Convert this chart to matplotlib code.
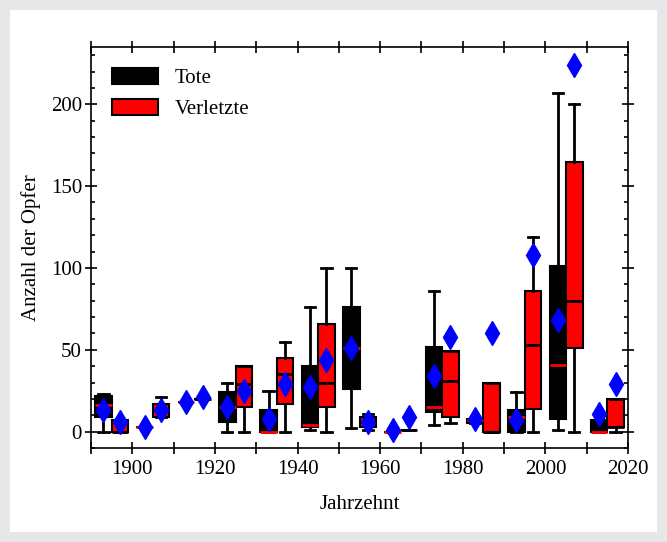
import numpy as np
import matplotlib
matplotlib.use('Agg')
from matplotlib import pyplot as plt
from matplotlib.patches import Patch, Rectangle
from matplotlib.ticker import MultipleLocator

plt.rcParams['font.family'] = ['Liberation Serif', 'DejaVu Serif']
plt.rcParams['font.size'] = 15

# decade start years
decades = [1890, 1900, 1910, 1920, 1930, 1940, 1950, 1960, 1970, 1980, 1990, 2000, 2010]

# Tote (black boxes): whisker low, q1, median, q3, whisker high, mean
tote_lo   = [0, 3, 18, 0, 0, 1, 2, 0, 4, 5, 0, 1, 0]
tote_q1   = [9, 3, 18, 6, 0, 3, 26, 0, 12, 5, 0, 8, 0]
tote_med  = [16, 3, 18, 15, 0, 4, 51, 0, 15, 7, 9, 41, 0]
tote_q3   = [22, 3, 18, 24, 13, 40, 76, 0, 52, 8, 13, 101, 7]
tote_hi   = [23, 3, 18, 30, 25, 76, 100, 0, 86, 8, 24, 207, 7]
tote_mean = [13, 3, 18, 15, 8, 27, 51, 1, 34, 8, 7, 68, 11]

# Verletzte (red boxes)
verl_lo   = [0, 9, 20, 0, 0, 0, 1, 1, 5, 0, 0, 0, 0]
verl_q1   = [0, 9, 20, 15, 17, 15, 3, 1, 9, 0, 14, 51, 3]
verl_med  = [0, 13, 20, 29, 35, 30, 6, 1, 31, 0, 53, 80, 3]
verl_q3   = [7, 17, 20, 40, 45, 66, 9, 1, 49, 30, 86, 165, 20]
verl_hi   = [7, 21, 20, 40, 55, 100, 11, 1, 49, 30, 119, 200, 20]
verl_mean = [6, 13, 21, 25, 29, 44, 6, 9, 58, 60, 108, 224, 29]


def make_stats(lo, q1, med, q3, hi):
    return [dict(whislo=a, q1=b, med=c, q3=d, whishi=e, fliers=[])
            for a, b, c, d, e in zip(lo, q1, med, q3, hi)]


fig = plt.figure(figsize=(6.67, 5.42), dpi=100)
fig.patch.set_facecolor('#e6e7e9')
fig.patches.append(Rectangle((10 / 667, 10 / 542), 647 / 667, 522 / 542,
                             transform=fig.transFigure, facecolor='white',
                             edgecolor='none', zorder=-10))

ax = fig.add_axes([91 / 667, 1 - 448 / 542, 537 / 667, 401 / 542])
ax.set_zorder(1)
ax.patch.set_alpha(0)

pos_tote = np.array(decades) + 3
pos_verl = np.array(decades) + 7

common = dict(widths=4, capwidths=2.5, patch_artist=True, showfliers=False,
              manage_ticks=False,
              whiskerprops=dict(color='black', lw=2),
              capprops=dict(color='black', lw=2))

ax.bxp(make_stats(tote_lo, tote_q1, tote_med, tote_q3, tote_hi), positions=pos_tote,
       boxprops=dict(facecolor='black', edgecolor='black', lw=1.5),
       medianprops=dict(color='red', lw=2), **common)
ax.bxp(make_stats(verl_lo, verl_q1, verl_med, verl_q3, verl_hi), positions=pos_verl,
       boxprops=dict(facecolor='red', edgecolor='black', lw=1.5),
       medianprops=dict(color='black', lw=2), **common)

# means
ax.plot(pos_tote, tote_mean, 'd', color='blue', ms=12, mec='blue', zorder=5)
ax.plot(pos_verl, verl_mean, 'd', color='blue', ms=12, mec='blue', zorder=5)

ax.set_xlim(1890, 2020)
ax.set_ylim(-10, 235)

ax.xaxis.set_minor_locator(MultipleLocator(10))
ax.yaxis.set_major_locator(MultipleLocator(50))
ax.yaxis.set_minor_locator(MultipleLocator(10))
ax.tick_params(axis='x', which='both', direction='inout', length=9, width=1.2,
               top=True, bottom=True, pad=4)
ax.tick_params(axis='y', which='major', direction='inout', length=9, width=1.2,
               left=True, right=True, pad=2)
ax.tick_params(axis='y', which='minor', direction='in', length=3, width=1.2,
               left=True, right=True)
ax.tick_params(labelsize=15)
ax.set_xticks([1900, 1920, 1940, 1960, 1980, 2000, 2020])
for sp in ax.spines.values():
    sp.set_linewidth(1.2)

ax.set_xlabel('Jahrzehnt', fontsize=15, labelpad=12)
ax.set_ylabel('Anzahl der Opfer', fontsize=15, labelpad=7)

handles = [Patch(facecolor='black', edgecolor='black', lw=1.5),
           Patch(facecolor='red', edgecolor='black', lw=1.5)]
ax.legend(handles, ['Tote', 'Verletzte'], loc='upper left', frameon=False,
          handlelength=2.2, handleheight=0.85, fontsize=15, borderaxespad=0.6,
          labelspacing=0.5, handletextpad=0.8)

fig.savefig('out.png', dpi=100, facecolor=fig.get_facecolor())
